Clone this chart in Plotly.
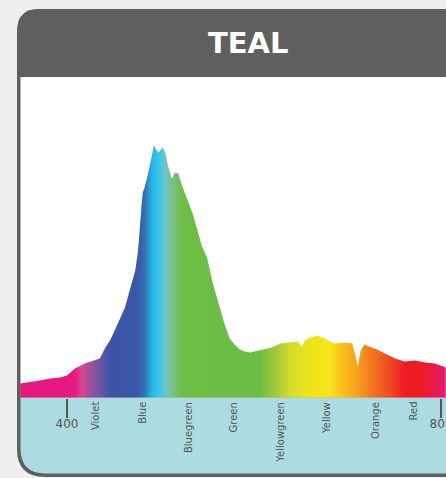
import plotly.graph_objects as go

# ---- data ----
wavelength = [350, 360, 371, 382, 392.5, 400, 408.6, 419, 430, 435, 441, 446, 451, 457, 462, 467,
              473, 476, 478, 480, 481, 483, 487, 491, 493, 496, 498, 502, 505, 508, 512, 515.5,
              519, 523, 528, 534, 539, 544, 550, 556, 564,
              569, 574, 580, 585, 590, 596, 601, 606, 612, 619, 628, 638.5, 647, 651, 654.5, 660,
              668, 676, 683, 687, 697, 705, 708, 711, 714, 718, 724, 731.5, 740, 751, 761, 772,
              783, 793.5, 805]
intensity = [5.6, 6.0, 6.7, 7.5, 7.9, 8.7, 11.5, 13.5, 14.7, 15.5, 19.8, 22.6, 26.6, 31.7, 35.7, 42.5,
             50.4, 58.3, 69.4, 77.4, 81.3, 83.3, 89.3, 96.0, 100.0, 98.0, 97.2, 99.2, 97.2, 92.1, 86.9, 89.3,
             88.9, 84.1, 79.0, 73.4, 67.1, 60.3, 55.2, 45.2, 34.9,
             28.6, 23.4, 20.6, 19.0, 18.3, 17.9, 18.3, 19.0, 19.4, 19.8, 21.4, 21.8, 22.2, 20.2, 22.6, 23.8,
             24.6, 23.4, 21.8, 21.4, 21.8, 21.4, 17.5, 12.3, 18.7, 21.0, 20.2, 19.0, 17.5, 15.5, 14.3, 14.7,
             13.9, 13.5, 11.9]

tick_values = [400, 800]
tick_labels = ["400", "800"]

band_names = ["Violet", "Blue", "Bluegreen", "Green", "Yellowgreen", "Yellow", "Orange", "Red"]
band_positions = [430, 480, 530, 578, 628, 677, 730, 770]

title_text = "TEAL"

# ---- geometry helpers (pixel -> paper) ----
W, H = 446, 478


def P(px, py):
    return f"{px / W:.5f},{1 - py / H:.5f}"


def rounded_path(x0, y0, x1, y1, rtop, rbot):
    return (f"M {P(x0 + rtop, y0)} L {P(x1, y0)} L {P(x1, y1)} L {P(x0 + rbot, y1)} "
            f"Q {P(x0, y1)} {P(x0, y1 - rbot)} L {P(x0, y0 + rtop)} "
            f"Q {P(x0, y0)} {P(x0 + rtop, y0)} Z")


shapes = [
    dict(type="path", xref="paper", yref="paper", layer="below",
         path=rounded_path(17, 9, 500, 477, 22, 28), fillcolor="#5F5F5F", line=dict(width=0)),
    dict(type="path", xref="paper", yref="paper", layer="below",
         path=f"M {P(20.5, 77)} L {P(500, 77)} L {P(500, 397.5)} L {P(20.5, 397.5)} Z",
         fillcolor="#FFFFFF", line=dict(width=0)),
    dict(type="path", xref="paper", yref="paper", layer="below",
         path=rounded_path(20.5, 397.5, 500, 473.5, 0, 25), fillcolor="#ACDCE2", line=dict(width=0)),
]

gradient = [
    [0.000, "#E5197F"], [0.129, "#E8197F"], [0.145, "#D4488F"], [0.164, "#A2509C"],
    [0.187, "#6E56A3"], [0.211, "#3D54A4"], [0.277, "#3A58A8"], [0.292, "#3270B6"],
    [0.310, "#2AB5E6"], [0.321, "#2EC4EE"], [0.341, "#6CC4CE"], [0.356, "#7DC08E"],
    [0.380, "#6DBE45"], [0.563, "#6CBD45"], [0.598, "#9DC83C"], [0.634, "#D2DC2A"],
    [0.681, "#EDE417"], [0.727, "#F6E71B"], [0.752, "#FBC41A"], [0.787, "#F8A51E"],
    [0.822, "#F47C20"], [0.868, "#EF4A24"], [0.903, "#ED1C24"], [0.940, "#ED1C24"],
    [0.975, "#E8194A"], [1.000, "#E5177A"],
]

fig = go.Figure()
fig.add_trace(go.Scatter(
    x=wavelength, y=intensity, mode="lines", line=dict(width=0, color="rgba(0,0,0,0)"),
    fill="tozeroy",
    fillgradient=dict(type="horizontal", colorscale=gradient, start=350, stop=805),
    hoverinfo="skip", showlegend=False,
))

annotations = [
    dict(text=title_text, xref="paper", yref="paper", x=248 / W, y=1 - 43 / H,
         xanchor="center", yanchor="middle", showarrow=False,
         font=dict(family="DejaVu Sans", size=29, color="#FFFFFF", weight="bold")),
]
for name, pos in zip(band_names, band_positions):
    annotations.append(dict(
        text=name, x=pos, xref="x", y=1 - 400 / H, yref="paper",
        xanchor="center", yanchor="top", textangle=-90, showarrow=False,
        font=dict(family="DejaVu Sans", size=10, color="#555555")))

fig.update_layout(
    width=W, height=H, margin=dict(l=0, r=0, t=0, b=0, autoexpand=False),
    paper_bgcolor="#EFEFEF", plot_bgcolor="rgba(0,0,0,0)",
    shapes=shapes, annotations=annotations, showlegend=False,
    xaxis=dict(range=[328.36, 805.28], domain=[0, 1], anchor="free", position=(H - 397.5) / H,
               tickvals=tick_values, ticktext=tick_labels, ticks="outside", ticklen=19,
               tickwidth=1.3, tickcolor="#555555", showgrid=False, zeroline=False, showline=False,
               ticklabelstandoff=-4, ticklabeloverflow="allow", automargin=False,
               tickfont=dict(family="DejaVu Sans", size=12, color="#555555")),
    yaxis=dict(range=[-(H - 397.5) / 2.52, 397.5 / 2.52], domain=[0, 1], visible=False,
               showgrid=False, zeroline=False, automargin=False),
)

fig.write_html("out.html", config={"displayModeBar": False, "staticPlot": True},
               post_script="document.body.style.margin='0';document.body.style.overflow='hidden';")
